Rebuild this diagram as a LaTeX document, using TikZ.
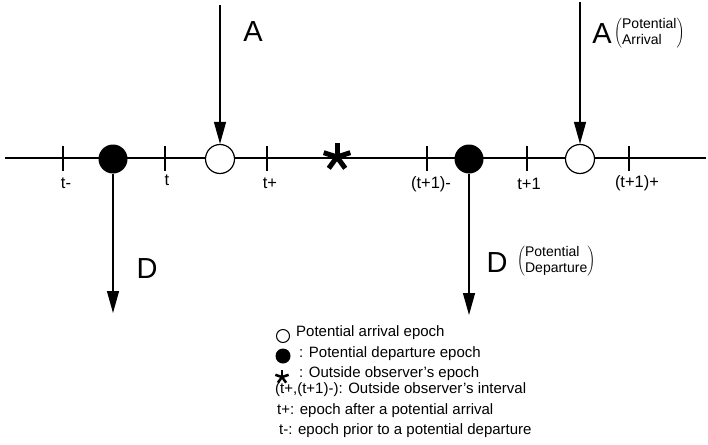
\documentclass[tikz,border=0pt]{standalone}
\usepackage{fontspec}
\setmainfont{Liberation Sans}
\usetikzlibrary{arrows.meta}
\tikzset{
  axisline/.style={line width=1.3pt},
  tickmark/.style={line width=1.3pt},
  arrivalpt/.style={circle,draw,line width=1.2pt,minimum size=29pt,inner sep=0pt,fill=white},
  departpt/.style={circle,fill=black,minimum size=29pt,inner sep=0pt},
  ticklabel/.style={font=\fontsize{16.5}{18}\selectfont,inner sep=0pt},
  biglabel/.style={font=\fontsize{29}{32}\selectfont,inner sep=0pt},
  smalllabel/.style={font=\fontsize{14}{16}\selectfont,inner sep=0pt},
  legendtext/.style={font=\fontsize{15}{17}\selectfont,anchor=west,inner sep=0pt},
  flow/.style={line width=1.3pt,-{Triangle[length=22pt,width=12pt]}},
}
\newcommand{\asterisk}[4]{%
  \foreach \ang in {-90,-162,-234,-306,-18}{
    \draw[line width=#4,line cap=butt] (#1,#2) -- ++(\ang:#3);
  }}
\begin{document}
\begin{tikzpicture}[x=1pt,y=-1pt]
\useasboundingbox (0,0) rectangle (708,444);
% axis
\coordinate (L) at (5,158);
\coordinate (R) at (706,158);
\draw[axisline] (L) -- (R);
% ticks
\foreach \n/\x in {tm/63,t/165,tp/267,t1m/427,t1/527,t1p/629}{
  \coordinate (\n top) at (\x,146);
  \coordinate (\n bot) at (\x,171);
  \draw[tickmark] (\n top) -- (\n bot);
}
% tick labels
\node[ticklabel] (ltm) at (66,183) {t-};
\node[ticklabel] (lt) at (167,180) {t};
\node[ticklabel] (ltp) at (270,183) {t+};
\node[ticklabel] (lt1m) at (431,184) {(t+1)-};
\node[ticklabel] (lt1) at (529,184) {t+1};
\node[ticklabel] (lt1p) at (637,183) {(t+1)+};
% points
\node[departpt] (d1) at (113,159) {};
\node[arrivalpt] (a1) at (220,159) {};
\node[departpt] (d2) at (469,159) {};
\node[arrivalpt] (a2) at (580,159) {};
% star
\asterisk{337}{157}{14}{5pt}
% arrival arrows
\coordinate (a1s) at (220,5);
\coordinate (a2s) at (580,2);
\draw[flow] (a1s) -- (a1.north);
\draw[flow] (a2s) -- (a2.north);
% departure arrows
\coordinate (d1e) at (113,313);
\coordinate (d2e) at (469,315);
\draw[flow] (d1.south) -- (d1e);
\draw[flow] (d2.south) -- (d2e);
% labels
\node[biglabel] (A1) at (253,32) {A};
\node[biglabel] (A2) at (602,34) {A};
\node[smalllabel,anchor=west] (A2p) at (614,33) {$\left(\hbox{\begin{tabular}{@{}l@{}}Potential\\Arrival\end{tabular}}\right)$};
\node[biglabel] (D1) at (147,269) {D};
\node[biglabel] (D2) at (497,263) {D};
\node[smalllabel,anchor=west] (D2p) at (517,261) {$\left(\hbox{\begin{tabular}{@{}l@{}}Potential\\Departure\end{tabular}}\right)$};
% legend
\node[circle,draw,line width=1pt,minimum size=13pt,inner sep=0pt] (k1) at (283,336) {};
\node[legendtext] (t1) at (296,333) {Potential arrival epoch};
\node[circle,fill=black,minimum size=15pt,inner sep=0pt] (k2) at (283,356) {};
\node[legendtext] (t2) at (299,354) {: Potential departure epoch};
\asterisk{282}{377}{7}{2.5pt}
\node[legendtext] (t3) at (299,374) {: Outside observer's epoch};
\node[legendtext] (t4) at (275,390) {(t+,(t+1)-): Outside observer's interval};
\node[legendtext] (t5) at (277,411) {t+: epoch after a potential arrival};
\node[legendtext] (t6) at (279,431) {t-: epoch prior to a potential departure};
\end{tikzpicture}
\end{document}
